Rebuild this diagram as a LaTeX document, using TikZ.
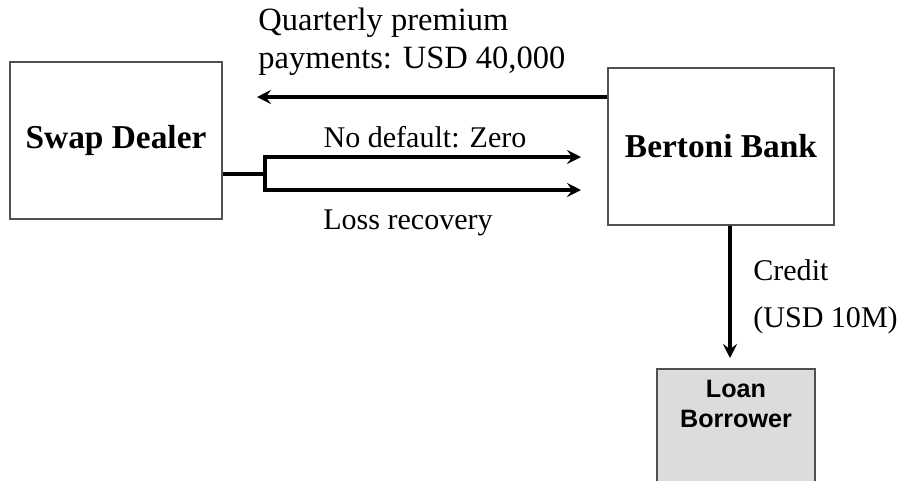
\documentclass[tikz,border=0pt]{standalone}
\usepackage{fontspec}
\setmainfont{Liberation Serif}
\newfontfamily\arialfont{Liberation Sans}
\usepackage{xcolor}
\usepackage{tikz}
\usetikzlibrary{positioning, arrows.meta, calc}
\definecolor{boxline}{HTML}{505050}
\definecolor{borrowerbg}{HTML}{DCDCDC}
\tikzset{
  party/.style={
    draw=boxline, line width=1pt, fill=white,
    minimum width=4.3cm, minimum height=3.14cm,
    align=center, font=\fontsize{19}{22}\selectfont\bfseries
  },
  borrowerbox/.style={
    draw=boxline, line width=1pt, fill=borrowerbg,
    minimum width=3.16cm, minimum height=2.64cm
  },
  flow/.style={
    -{Stealth[length=8pt, width=8pt, inset=3pt]},
    line width=2.1pt, black
  },
  flowlabel/.style={
    font=\fontsize{17.1}{21.5}\selectfont, align=left, inner sep=0pt
  }
}

\begin{document}
\begin{tikzpicture}
  \useasboundingbox (0,0) rectangle (18.06,-9.6);

  % Parties
  \node[party, minimum width=4.24cm] (dealer) at (2.32,-2.81) {Swap Dealer};
  \node[party, minimum width=4.52cm] (bertoni) at (14.42,-2.93) {Bertoni Bank};
  \node[borrowerbox, anchor=north] (borrower) at (14.72,-7.36) {};
  \node[font=\arialfont\fontsize{14.3}{17}\selectfont\bfseries, align=center,
        anchor=north, inner sep=0pt] (borrowertext) at ($(borrower.north)+(0,-0.24)$) {Loan\\Borrower};

  % Premium payments
  \coordinate (premiumend) at (5.14,-1.94);
  \draw[flow] (bertoni.west |- premiumend) -- (premiumend);
  \node[flowlabel, font=\fontsize{18.5}{21.5}\selectfont, anchor=west] (premiumlabel) at (5.16,-0.84) {Quarterly premium\\payments: USD 40,000};

  % Protection leg
  \coordinate (split) at (5.3,-3.48);
  \coordinate (zeroend) at (11.62,-3.14);
  \coordinate (lossend) at (11.62,-3.8);
  \draw[line width=2.1pt] (dealer.east |- split) -- (split);
  \draw[flow] (split) |- (zeroend);
  \draw[flow] (split) |- (lossend);
  \node[flowlabel] (zerolabel) at (8.5,-2.74) {No default: Zero};
  \node[flowlabel, anchor=west] (losslabel) at (6.46,-4.46) {Loss recovery};

  % Credit
  \draw[flow] ($(bertoni.south)+(0.18,0)$) -- ($(borrower.north)+(-0.12,0.2)$);
  \node[flowlabel, anchor=west] (creditlabel) at (15.06,-5.4) {Credit};
  \node[flowlabel, anchor=west] (amountlabel) at (15.06,-6.4) {(USD 10M)};
\end{tikzpicture}
\end{document}
